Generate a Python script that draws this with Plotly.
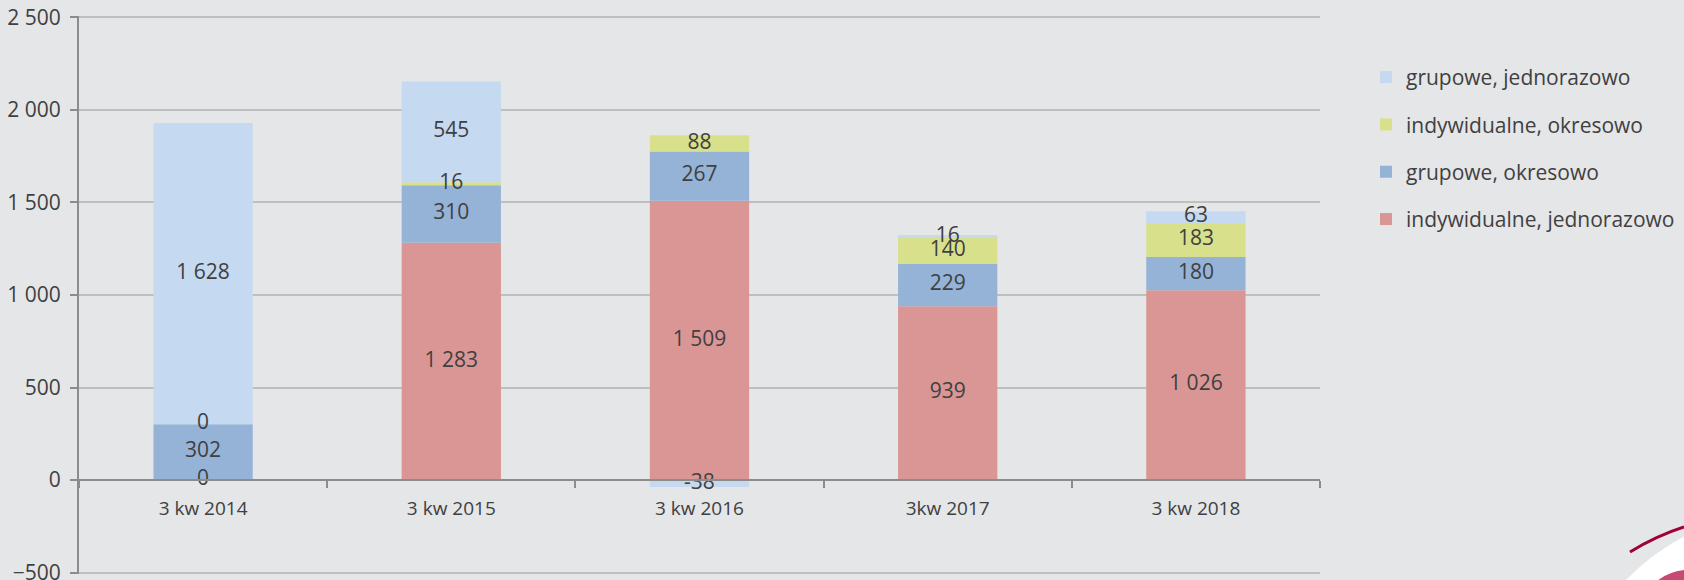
import plotly.graph_objects as go

categories = ["3 kw 2014", "3 kw 2015", "3 kw 2016", "3kw 2017", "3 kw 2018"]
indyw_jednorazowo = [0, 1283, 1509, 939, 1026]
grupowe_okresowo = [302, 310, 267, 229, 180]
indyw_okresowo = [0, 16, 88, 140, 183]
grupowe_jednorazowo = [1628, 545, -38, 16, 63]

series_names = ["indywidualne, jednorazowo", "grupowe, okresowo",
                "indywidualne, okresowo", "grupowe, jednorazowo"]
series_values = [indyw_jednorazowo, grupowe_okresowo, indyw_okresowo, grupowe_jednorazowo]
series_colors = ["#DA9694", "#95B3D7", "#D8E08C", "#C5D9F1"]

Y_MIN, Y_MAX = -500, 2500
PAD = 8  # small padding so edge gridlines are drawn
W, H = 1684, 580
ML, MR, MT, MB = 79, 364, 16, 6
PW, PH = W - ML - MR, H - MT - MB
BG = "#E5E6E8"
TXT = "#404040"
FONT = "Open Sans"


def px_x(p):
    return (p - ML) / PW


def px_y(p):
    return (H - MB - p) / PH


fig = go.Figure()

pos_base = [0] * len(categories)
neg_base = [0] * len(categories)
n = len(series_names)
for k, (name, vals, col) in enumerate(zip(series_names, series_values, series_colors)):
    fig.add_trace(go.Bar(
        x=categories, y=vals, name=name, marker=dict(color=col, line=dict(width=0)),
        width=0.4, legendgroup=name, legendrank=n - k,
    ))
    mids = []
    for i, v in enumerate(vals):
        if v >= 0:
            mids.append(pos_base[i] + v / 2)
            pos_base[i] += v
        else:
            mids.append(neg_base[i] + v / 2)
            neg_base[i] += v
    fig.add_trace(go.Scatter(
        x=categories, y=mids, mode="text",
        text=[f"{v:,}".replace(",", " ") for v in vals],
        textfont=dict(family=FONT, size=21, color=TXT),
        showlegend=False, hoverinfo="skip", legendgroup=name, legendrank=n - k,
    ))

lo, hi = Y_MIN - PAD, Y_MAX + PAD
fig.update_layout(
    barmode="relative",
    width=W, height=H,
    margin=dict(l=ML, r=MR, t=MT, b=MB, autoexpand=False),
    paper_bgcolor=BG, plot_bgcolor=BG,
    font=dict(family=FONT, size=18, color=TXT),
    separators=", ",
    showlegend=True,
    legend=dict(
        x=px_x(1366), y=px_y(57), xanchor="left", yanchor="top",
        traceorder="grouped", tracegroupgap=17,
        font=dict(family=FONT, size=21, color=TXT),
        bgcolor="rgba(0,0,0,0)", itemwidth=30,
    ),
    xaxis=dict(
        type="category", anchor="free", position=(0 - lo) / (hi - lo), automargin=False,
        showline=True, linecolor="#8C8C8C", linewidth=2,
        ticks="outside", tickson="boundaries", ticklen=7, tickwidth=2, tickcolor="#8C8C8C",
        showgrid=False, tickfont=dict(family=FONT, size=19, color=TXT),
        ticklabelstandoff=11,
    ),
    yaxis=dict(
        range=[lo, hi], tickvals=list(range(Y_MIN, Y_MAX + 1, 500)), tickformat=",",
        automargin=False,
        showline=True, linecolor="#8C8C8C", linewidth=2,
        ticks="outside", ticklen=7, tickwidth=2, tickcolor="#8C8C8C",
        showgrid=True, gridcolor="#BFBFBF", gridwidth=1.5, zeroline=False,
        tickfont=dict(family=FONT, size=21, color=TXT), ticklabelstandoff=5,
        ticklabeloverflow="allow",
    ),
    shapes=[
        dict(type="path", xref="paper", yref="paper", layer="above",
             path=(f"M {px_x(1625)} {px_y(581)} Q {px_x(1652)} {px_y(553)} {px_x(1685)} {px_y(536)} "
                   f"L {px_x(1685)} {px_y(581)} Z"),
             fillcolor="white", line=dict(width=0)),
        dict(type="path", xref="paper", yref="paper", layer="above",
             path=(f"M {px_x(1657)} {px_y(581)} Q {px_x(1668)} {px_y(572)} {px_x(1685)} {px_y(570)} "
                   f"L {px_x(1685)} {px_y(581)} Z"),
             fillcolor="#C84A72", line=dict(width=0)),
        dict(type="path", xref="paper", yref="paper",
             path=f"M {px_x(1630)} {px_y(552)} Q {px_x(1656)} {px_y(536)} {px_x(1684)} {px_y(527)}",
             line=dict(color="#A0003A", width=3)),
    ],
)

fig.write_html("out.html", config={"displayModeBar": False},
               post_script="document.body.style.margin='0px';")
